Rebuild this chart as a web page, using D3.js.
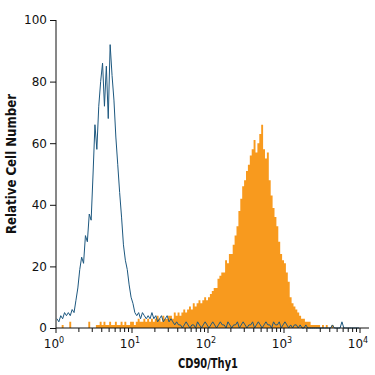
<!DOCTYPE html>
<html>
<head>
<meta charset="utf-8">
<script src="https://cdn.jsdelivr.net/npm/d3@7"></script>
<style>
  body { margin: 0; background: #fff; }
  svg text { font-family: "DejaVu Sans", "Liberation Sans", sans-serif; fill: #111; }
  .axis path, .axis line { stroke: #111; stroke-width: 1; }
</style>
</head>
<body>
<svg id="chart" width="375" height="375"></svg>
<script>
// bins: 40 per decade, from 10^0 to 10^4 (bin centre = 10^((i+0.5)/40))
const binsPerDecade = 40;

// isotype control (blue outline)
const controlCounts = [
  3, 2, 4, 3, 5, 4, 5, 4, 6, 5,
  9, 13, 19, 23, 21, 30, 28, 37, 35, 50,
  66, 58, 72, 80, 86, 72, 85, 68, 92, 82,
  74, 62, 53, 44, 36, 27, 22, 19, 14, 10,
  8, 5, 4, 5, 3, 5, 4, 3, 4, 3,
  5, 3, 4, 2, 3, 4, 2, 3, 4, 2,
  3, 2, 1, 2, 1, 1, 0, 1, 2, 1,
  0, 1, 1, 0, 2, 1, 0, 1, 2, 1,
  0, 1, 2, 1, 0, 1, 2, 1, 1, 0,
  2, 1, 0, 1, 1, 2, 0, 1, 2, 1,
  0, 1, 1, 2, 0, 1, 2, 1, 0, 1,
  2, 1, 1, 0, 2, 1, 1, 2, 0, 1,
  2, 1, 0, 1, 0, 1, 1, 0, 1, 0,
  0, 1, 0, 0, 0, 0, 0, 0, 0, 0,
  0, 0, 0, 0, 0, 1, 0, 0, 0, 0,
  2, 0, 0, 0, 0, 0, 0, 0, 0, 0
];

// CD90/Thy1 stained (orange filled)
const stainedCounts = [
  0, 0, 0, 1, 0, 0, 0, 2, 0, 0,
  0, 0, 0, 0, 0, 0, 0, 2, 0, 0,
  0, 1, 1, 2, 1, 2, 1, 1, 2, 1,
  1, 2, 1, 1, 2, 1, 2, 1, 1, 2,
  2, 1, 2, 3, 2, 2, 3, 2, 3, 2,
  3, 2, 3, 4, 3, 2, 4, 3, 3, 4,
  4, 3, 5, 4, 5, 4, 5, 6, 5, 6,
  7, 6, 8, 7, 8, 9, 8, 9, 10, 9,
  10, 11, 12, 13, 13, 16, 17, 18, 18, 22,
  21, 24, 24, 27, 30, 33, 38, 42, 46, 48,
  51, 53, 56, 58, 61, 57, 60, 63, 66, 58,
  55, 57, 48, 43, 39, 36, 33, 28, 24, 22,
  21, 18, 15, 10, 8, 7, 6, 5, 4, 3,
  3, 2, 2, 2, 1, 1, 1, 1, 1, 0,
  1, 0, 1, 0, 0, 1, 0, 0, 0, 0,
  0, 0, 0, 0, 0, 0, 0, 0, 0, 0
];

const xTicks = [1, 10, 100, 1000, 10000];
const yTicks = [0, 20, 40, 60, 80, 100];

const svg = d3.select('#chart');

const x = d3.scaleLog().domain([1, 10000]).range([56, 360]);
const y = d3.scaleLinear().domain([0, 100]).range([328, 20]);

const binX = i => Math.pow(10, i / binsPerDecade);

// orange filled histogram
const stainedData = stainedCounts.map((c, i) => ({ v: binX(i), c }));
stainedData.push({ v: binX(stainedCounts.length), c: 0 });
svg.append('path')
  .datum(stainedData)
  .attr('fill', '#f89a1e')
  .attr('d', d3.area()
    .x(d => x(d.v))
    .y0(y(0))
    .y1(d => y(d.c))
    .curve(d3.curveStepAfter));

// blue outline histogram
const controlData = controlCounts.map((c, i) => ({ v: binX(i + 0.5), c }));
svg.append('path')
  .datum(controlData)
  .attr('fill', 'none')
  .attr('stroke', '#1d587f')
  .attr('stroke-width', 1)
  .attr('d', d3.line()
    .x(d => x(d.v))
    .y(d => y(d.c)));

// x axis: major + minor ticks
const minor = [];
for (let k = 0; k < 4; k++) {
  for (let m = 2; m <= 9; m++) minor.push(m * Math.pow(10, k));
}
const xg = svg.append('g').attr('class', 'axis').attr('transform', `translate(0,${y(0)})`);
xg.append('line').attr('x1', 56).attr('x2', 369).attr('y1', 0).attr('y2', 0);
xg.selectAll('.minor').data(minor).join('line')
  .attr('class', 'minor')
  .attr('x1', d => x(d)).attr('x2', d => x(d))
  .attr('y1', 0).attr('y2', 4);
xg.selectAll('.major').data(xTicks).join('line')
  .attr('class', 'major')
  .attr('x1', d => x(d)).attr('x2', d => x(d))
  .attr('y1', 0).attr('y2', 5);

const xl = xg.selectAll('.xlab').data(xTicks).join('text')
  .attr('class', 'xlab')
  .attr('x', d => x(d) - 2)
  .attr('y', 20)
  .attr('text-anchor', 'middle')
  .style('font-size', '12px');
xl.append('tspan').text('10');
xl.append('tspan')
  .attr('dy', -5)
  .style('font-size', '8px')
  .text(d => Math.round(Math.log10(d)));

// y axis
const yAxis = d3.axisLeft(y).tickValues(yTicks).tickSizeOuter(0).tickSize(6).tickPadding(3);
const yg = svg.append('g').attr('class', 'axis').attr('transform', `translate(${x(1)},0)`).call(yAxis);
yg.selectAll('text').style('font-size', '12px').style('fill', '#111');
yg.select('.domain').attr('d', `M0,${y(100)}V${y(0)}`);

// titles (squeezed to mimic the condensed face of the original)
svg.append('text')
  .attr('x', 208)
  .attr('y', 368)
  .attr('text-anchor', 'middle')
  .attr('textLength', 60)
  .attr('lengthAdjust', 'spacingAndGlyphs')
  .style('font-size', '14px')
  .style('font-weight', 'bold')
  .text('CD90/Thy1');

svg.append('text')
  .attr('transform', `translate(16,${y(50) - 10}) rotate(-90)`)
  .attr('text-anchor', 'middle')
  .attr('textLength', 140)
  .attr('lengthAdjust', 'spacingAndGlyphs')
  .style('font-size', '14px')
  .style('font-weight', 'bold')
  .text('Relative Cell Number');
</script>
</body>
</html>
